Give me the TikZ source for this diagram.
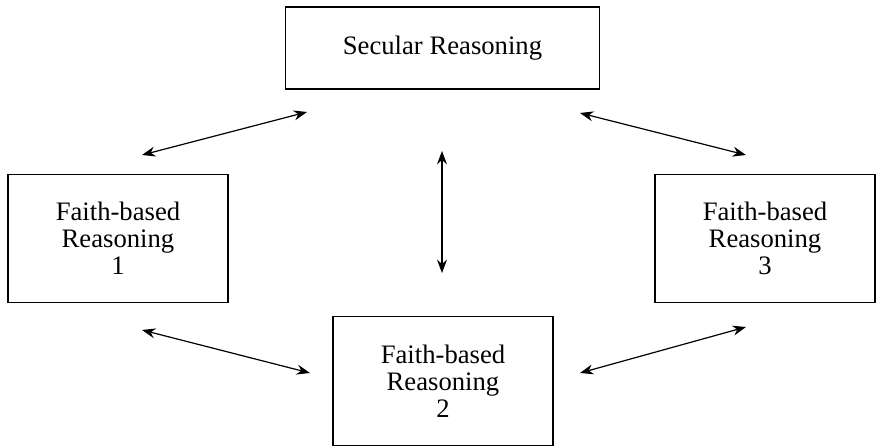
\documentclass[tikz,border=0pt]{standalone}
\usepackage{fontspec}
\setmainfont{Liberation Serif}
\usepackage{tikz}
\usetikzlibrary{arrows.meta}
\tikzstyle{secbox} = [rectangle, minimum width=236pt, minimum height=61.5pt, inner sep=0pt, text centered, draw=black, line width=0.9pt]
\tikzstyle{faithbox} = [rectangle, minimum width=165pt, minimum height=96.5pt, inner sep=0pt, align=center, draw=black, line width=0.9pt]
\tikzstyle{arrow} = [line width=0.9pt,{Stealth[length=10pt,width=7.5pt]}-{Stealth[length=10pt,width=7.5pt]}]

\begin{document}
\begin{tikzpicture}[x=0.75pt, y=-0.75pt, font=\fontsize{20}{20.3}\selectfont]
\useasboundingbox (0,0) rectangle (876,446);
\node (sec) [secbox] at (442.5,48) {Secular Reasoning};
\node (faith1) [faithbox] at (118,238.5) {Faith-based\\Reasoning\\1};
\node (faith2) [faithbox] at (443,381) {Faith-based\\Reasoning\\2};
\node (faith3) [faithbox] at (765,238.5) {Faith-based\\Reasoning\\3};
% free ends of the connectors
\coordinate (a1) at (142,155);
\coordinate (a2) at (307,112);
\coordinate (b1) at (580,113);
\coordinate (b2) at (746,155);
\coordinate (c1) at (442,151);
\coordinate (c2) at (442,273);
\coordinate (d1) at (142,330);
\coordinate (d2) at (310,373);
\coordinate (e1) at (580,373);
\coordinate (e2) at (746,327);
\draw [arrow] (a1) -- (a2);
\draw [arrow] (b1) -- (b2);
\draw [arrow] (c1) -- (c2);
\draw [arrow] (d1) -- (d2);
\draw [arrow] (e1) -- (e2);
\end{tikzpicture}
\end{document}
